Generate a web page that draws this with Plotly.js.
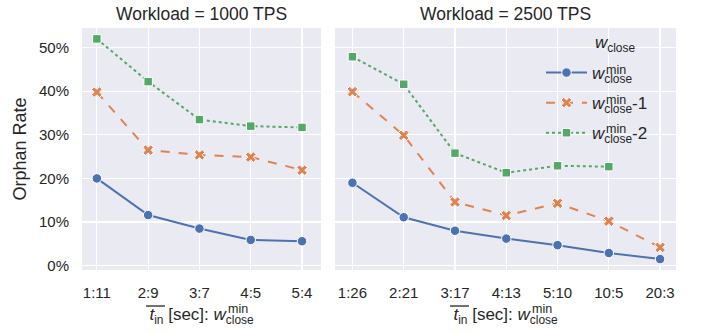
<!DOCTYPE html>
<html><head><meta charset="utf-8">
<script src="https://cdn.plot.ly/plotly-3.0.1.min.js"></script>
<style>body{margin:0;background:#fff}#c{width:704px;height:333px}</style>
</head><body><div id="c"></div>
<script>
const cats1000 = ['1:11','2:9','3:7','4:5','5:4'];
const cats2500 = ['1:26','2:21','3:17','4:13','5:10','10:5','20:3'];
const min1000   = [0.200, 0.116, 0.085, 0.059, 0.056];
const minus1_1000 = [0.398, 0.265, 0.254, 0.249, 0.219];
const minus2_1000 = [0.520, 0.422, 0.335, 0.320, 0.317];
const min2500   = [0.190, 0.111, 0.080, 0.062, 0.047, 0.029, 0.015];
const minus1_2500 = [0.399, 0.299, 0.146, 0.115, 0.143, 0.102, 0.042];
const minus2_2500 = [0.479, 0.416, 0.258, 0.213, 0.229, 0.227, null];
const seriesNames = ['<i>w</i><sub>close</sub>', '<i>w</i><sub>close</sub>-1', '<i>w</i><sub>close</sub>-2'];
const panelTitles = ['Workload = 1000 TPS', 'Workload = 2500 TPS'];
const legendTitle = '<i>w</i><sub>close</sub>';
const supText = 'min';
const yTicks = [0, 0.1, 0.2, 0.3, 0.4, 0.5];

const colors = ['#4C72B0', '#DD8452', '#55A868'];
const dashes = ['solid', 'dash', 'dot'];
const symbols = ['circle', 'x', 'square'];
const msize = [9.5, 9.5, 8.5];

const traces = [];
const left = [min1000, minus1_1000, minus2_1000];
const right = [min2500, minus1_2500, minus2_2500];
for (let i = 0; i < 3; i++) {
  traces.push({x: cats1000, y: left[i], xaxis: 'x', yaxis: 'y', type: 'scatter', mode: 'lines+markers',
    name: seriesNames[i], legendgroup: 'g' + i, showlegend: false,
    line: {color: colors[i], width: 2, dash: dashes[i]},
    marker: {symbol: symbols[i], size: msize[i], color: colors[i], line: {color: '#fff', width: 1}}});
  traces.push({x: cats2500, y: right[i], xaxis: 'x2', yaxis: 'y2', type: 'scatter', mode: 'lines+markers',
    name: seriesNames[i], legendgroup: 'g' + i, showlegend: true,
    line: {color: colors[i], width: 2, dash: dashes[i]},
    marker: {symbol: symbols[i], size: msize[i], color: colors[i], line: {color: '#fff', width: 1}}});
}

const fam = 'Liberation Sans, Arial, sans-serif';
const font = {family: fam, color: '#262626'};
const xtitle = "<i>t</i><sub>in</sub> [sec]: <i>w</i><sub>close</sub>";
const axBase = {
  showgrid: true, gridcolor: '#fff', gridwidth: 1.2, zeroline: false, showline: false,
  tickfont: {size: 15, family: fam, color: '#262626'}, ticks: '', automargin: false
};
const P = (px) => px / 704;
const Q = (py) => 1 - py / 333;
const ann = (text, x, y, size, xa) => ({text: text, xref: 'paper', yref: 'paper', x: P(x), y: Q(y),
  xanchor: xa || 'left', yanchor: 'middle', showarrow: false, font: {size: size, family: fam, color: '#262626'}});

const annotations = [
  ann(panelTitles[0], 201.5, 14, 17.5, 'center'),
  ann(panelTitles[1], 505.5, 14, 17.5, 'center'),
  ann(legendTitle, 593, 44, 17),
  // superscripts stacked above the "close" subscripts
  ann(supText, 226, 309, 12.5),
  ann(supText, 530, 309, 12.5),
  ann(supText, 604, 69.5, 12.5),
  ann(supText, 604, 99.5, 12.5),
  ann(supText, 604, 128.5, 12.5)
];
// overline above t_in in both axis titles
const over = (x0) => ({type: 'line', xref: 'paper', yref: 'paper', x0: P(x0), x1: P(x0 + 19), y0: Q(306), y1: Q(306),
  line: {color: '#262626', width: 1.3}});

const layout = {
  width: 704, height: 333,
  margin: {l: 0, r: 0, t: 0, b: 0},
  paper_bgcolor: '#fff', plot_bgcolor: '#EAEAF2',
  font: font,
  showlegend: true,
  xaxis: Object.assign({}, axBase, {domain: [P(82), P(321)], type: 'category', range: [-0.29, 4.37],
    ticklabelstandoff: 12, title: {text: xtitle, font: {size: 17}, standoff: 8}, anchor: 'y'}),
  xaxis2: Object.assign({}, axBase, {domain: [P(335), P(676)], type: 'category', range: [-0.34, 6.31],
    ticklabelstandoff: 12, title: {text: xtitle, font: {size: 17}, standoff: 8}, anchor: 'y2'}),
  yaxis: Object.assign({}, axBase, {domain: [Q(270), Q(28)], range: [-0.01, 0.545],
    tickvals: yTicks, tickformat: '.0%', ticklabelstandoff: 12,
    title: {text: 'Orphan Rate', font: {size: 18}, standoff: 7}, anchor: 'x'}),
  yaxis2: Object.assign({}, axBase, {domain: [Q(270), Q(28)], range: [-0.01, 0.545],
    tickvals: yTicks, showticklabels: false, anchor: 'x2'}),
  legend: {x: P(541), y: Q(55), xanchor: 'left', yanchor: 'top', bgcolor: 'rgba(0,0,0,0)',
    font: {size: 17, family: fam, color: '#262626'},
    tracegroupgap: 5, itemwidth: 41},
  shapes: [over(146), over(450)],
  annotations: annotations
};
Plotly.newPlot('c', traces, layout, {displayModeBar: false, staticPlot: true});
</script></body></html>
